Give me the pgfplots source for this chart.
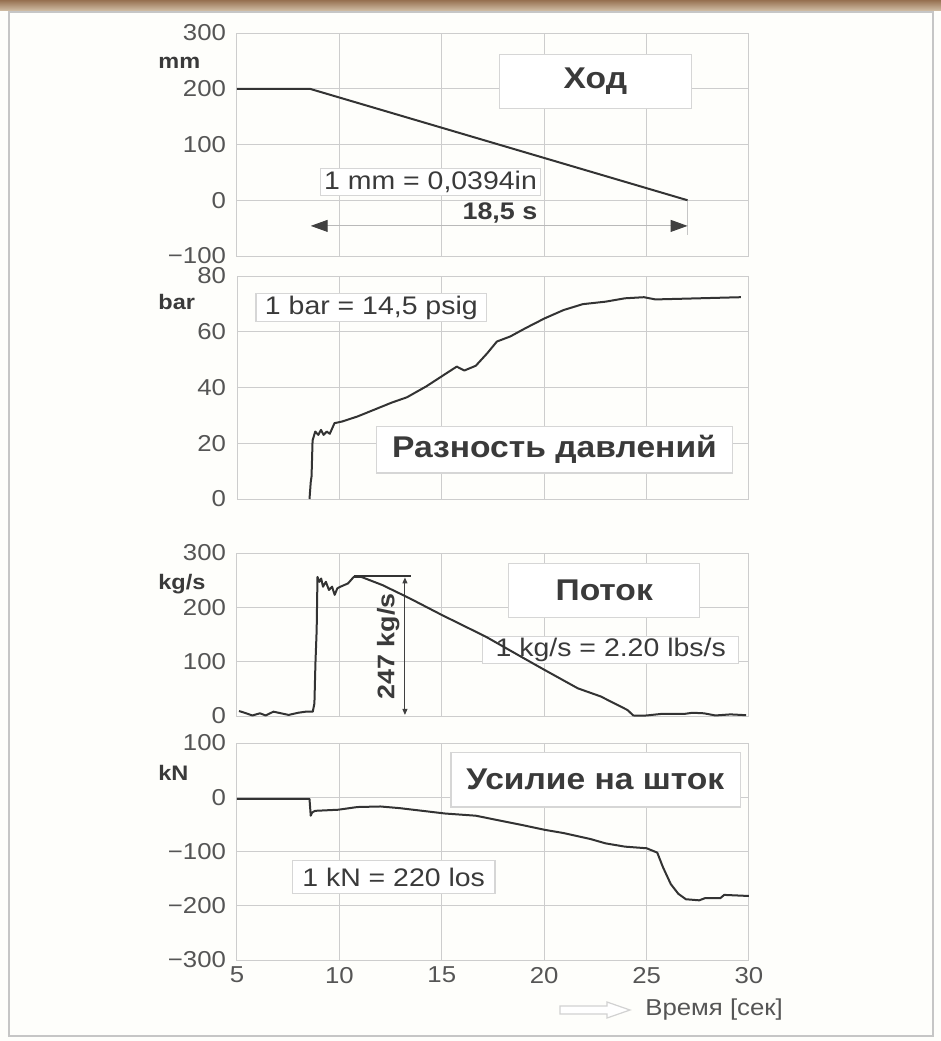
\documentclass[border=0pt]{standalone}
\usepackage{fontspec}
\setmainfont[FakeStretch=1.12]{Liberation Sans}
\usepackage{pgfplots}
\pgfplotsset{compat=1.18}
\usetikzlibrary{arrows.meta}

\definecolor{gridc}{HTML}{CDCDCD}
\definecolor{curve}{HTML}{333333}
\definecolor{tickc}{HTML}{555555}
\definecolor{boxc}{HTML}{D6D6D6}
\definecolor{titlec}{HTML}{3A3A3A}
\definecolor{bg}{HTML}{FEFEFB}

\pgfplotsset{
  panel/.style={
    scale only axis, width=256pt, xmin=5, xmax=30,
    xtick={5,10,15,20,25,30}, xticklabels={},
    grid=major, major grid style={gridc, line width=0.5pt},
    axis line style={gridc, line width=0.5pt},
    major tick length=0pt,
    tick label style={font=\fontsize{11.5}{13}\selectfont, text=tickc},
    yticklabel style={xshift=-2pt},
    /pgf/number format/assume math mode=true,
    anchor=north west,
  },
}
\tikzset{
  curvestyle/.style={curve, line width=1pt, line join=round},
  boxstyle/.style={boxc, fill=white, line width=0.6pt},
  unitlab/.style={anchor=west, inner sep=0pt, font=\fontsize{10.5}{12}\selectfont\bfseries, text=titlec},
}

\begin{document}
\begin{tikzpicture}
\path[use as bounding box] (0pt,0pt) rectangle (470.5pt,-520.5pt);
\fill[bg] (0pt,0pt) rectangle (470.5pt,-520.5pt);
\shade[top color={rgb,255:red,150;green,112;blue,80}, bottom color={rgb,255:red,205;green,185;blue,160}] (0pt,0pt) rectangle (470.5pt,-5pt);
\draw[gray!45, line width=0.6pt] (4.5pt,-6pt) rectangle (466.5pt,-518pt);

% ---------------- Panel 1
\begin{axis}[panel, at={(118.5pt,-16.5pt)}, height=111.5pt,
  ymin=-100, ymax=300, ytick={-100,0,100,200,300}, yticklabels={−100,0,100,200,300}]
\draw[boxstyle] (axis cs:17.8,165) rectangle (axis cs:27.2,261);
\node[font=\fontsize{15}{17}\selectfont\bfseries, text=titlec] at (axis cs:22.5,213) {Ход};
\draw[boxstyle] (axis cs:9.07,8) rectangle (axis cs:19.83,57);
\node[font=\fontsize{12.7}{14}\selectfont, text=titlec] at (axis cs:14.45,32.5) {1 mm = 0,0394in};
\node[font=\fontsize{12}{14}\selectfont\bfseries, text=titlec] at (axis cs:17.84,-23) {18,5 s};
\draw[gray!45, line width=0.4pt] (axis cs:27,0) -- (axis cs:27,-62);
\draw[gray!55, line width=0.5pt, {Triangle[length=8.5pt,width=6pt,color=black!75]}-{Triangle[length=8.5pt,width=6pt,color=black!75]}] (axis cs:8.6,-46) -- (axis cs:27,-46);
\addplot[curvestyle] coordinates {(5,200) (8.55,200) (27,0)};
\end{axis}
\node[unitlab] at (79pt,-31.5pt) {mm};

% ---------------- Panel 2
\begin{axis}[panel, at={(118.5pt,-138pt)}, height=111.5pt,
  ymin=0, ymax=80, ytick={0,20,40,60,80}, yticklabels={0,20,40,60,80}]
\draw[boxstyle] (axis cs:5.93,63.6) rectangle (axis cs:17.2,73.8);
\node[font=\fontsize{12.7}{14}\selectfont, text=titlec] at (axis cs:11.56,68.7) {1 bar = 14,5 psig};
\draw[boxstyle] (axis cs:11.8,9.3) rectangle (axis cs:29.2,26);
\node[font=\fontsize{15}{17}\selectfont\bfseries, text=titlec] at (axis cs:20.5,17.65) {Разность давлений};
\addplot[curvestyle] coordinates {
(8.54,0) (8.6,6) (8.64,8.1) (8.69,21) (8.82,24.2) (8.97,23) (9.1,24.8) (9.23,23)
(9.38,24.2) (9.53,23.4) (9.76,27.2) (10.13,27.8) (10.88,29.6) (11.62,31.8)
(12.56,34.6) (13.3,36.5) (14.24,40.4) (15.35,45.7) (15.73,47.5) (16.1,46.1)
(16.66,47.8) (17.22,52.3) (17.69,56.5) (18.34,58.3) (19.09,61.3) (20.02,64.8)
(20.95,67.8) (21.88,69.9) (23,70.8) (23.94,72) (24.87,72.4) (25.43,71.6)
(26.5,71.8) (29.6,72.4)};
\end{axis}
\node[unitlab] at (79pt,-151pt) {bar};

% ---------------- Panel 3
\begin{axis}[panel, at={(118.5pt,-276.5pt)}, height=81.5pt,
  ymin=0, ymax=300, ytick={0,100,200,300}, yticklabels={0,100,200,300}]
\draw[boxstyle] (axis cs:18.27,182) rectangle (axis cs:27.6,281);
\node[font=\fontsize{15}{17}\selectfont\bfseries, text=titlec] at (axis cs:22.93,231.5) {Поток};
\draw[boxstyle] (axis cs:17,97) rectangle (axis cs:29.5,146);
\node[font=\fontsize{12.7}{14}\selectfont, text=titlec] at (axis cs:23.25,121.5) {1 kg/s = 2.20 lbs/s};
\draw[curvestyle] (axis cs:10.7,258) -- (axis cs:13.5,258);
\draw[black!75, line width=0.5pt, {Triangle[length=3pt,width=2.5pt]}-{Triangle[length=3pt,width=2.5pt]}] (axis cs:13.2,255) -- (axis cs:13.2,2);
\node[rotate=90, font=\fontsize{12}{14}\selectfont\bfseries, text=titlec] at (axis cs:12.38,128) {247 kg/s};
\addplot[curvestyle] coordinates {
(5.1,9.2) (5.37,6) (5.75,1) (6.12,5) (6.4,1) (6.78,8) (7.15,5) (7.52,2) (7.99,6)
(8.36,8) (8.7,8) (8.78,23) (8.83,97) (8.89,158) (8.93,256) (9.02,247) (9.11,253)
(9.2,238) (9.34,247) (9.49,232) (9.64,238) (9.77,223) (9.9,235) (10.05,238)
(10.42,244) (10.7,256) (11.07,256) (12.1,241) (13.41,217) (15,186) (17.15,146)
(19.02,106) (20.01,85) (21.64,51) (22.76,36) (24.07,11) (24.35,1) (24.63,0.5)
(25,1) (25.75,4) (26.87,4) (27.24,6) (27.8,5) (28.36,1) (29.1,3) (29.86,1.5)};
\end{axis}
\node[unitlab] at (79pt,-292pt) {kg/s};

% ---------------- Panel 4
\begin{axis}[panel, at={(118.5pt,-371.5pt)}, height=108.5pt,
  ymin=-300, ymax=100, ytick={-300,-200,-100,0,100}, yticklabels={−300,−200,−100,0,100},
  xticklabels={5,10,15,20,25,30}]
\draw[boxstyle] (axis cs:15.45,-18) rectangle (axis cs:29.6,83);
\node[font=\fontsize{15}{17}\selectfont\bfseries, text=titlec] at (axis cs:22.5,32.5) {Усилие на шток};
\draw[boxstyle] (axis cs:7.7,-178) rectangle (axis cs:17.6,-117);
\node[font=\fontsize{12.7}{14}\selectfont, text=titlec] at (axis cs:12.65,-147.5) {1 kN = 220 los};
\addplot[curvestyle] coordinates {
(5,-3) (8.54,-3) (8.6,-34) (8.67,-28) (8.82,-25) (9.94,-23) (10.88,-18) (12,-17)
(12.93,-20) (14.05,-25) (15.17,-30) (16.66,-34) (17.97,-44) (18.9,-51) (20.02,-60)
(20.95,-66) (22.26,-77) (23,-85) (23.94,-91) (25,-94) (25.52,-102) (25.8,-129)
(26.18,-160) (26.55,-178) (26.92,-188) (27.57,-190) (27.85,-186) (28.6,-186)
(28.79,-180) (30,-182)};
\end{axis}
\node[unitlab] at (79pt,-386.5pt) {kN};

% time arrow and label
\draw[gray!35, fill=white, line width=0.6pt] (280pt,-503pt) -- (303.5pt,-503pt) -- (303.5pt,-501pt) -- (315pt,-505pt) -- (303.5pt,-509pt) -- (303.5pt,-507pt) -- (280pt,-507pt) -- cycle;
\node[anchor=west, inner sep=0pt, font=\fontsize{11.5}{13}\selectfont, text=tickc] at (322.5pt,-505pt) {Время [сек]};
\end{tikzpicture}
\end{document}
